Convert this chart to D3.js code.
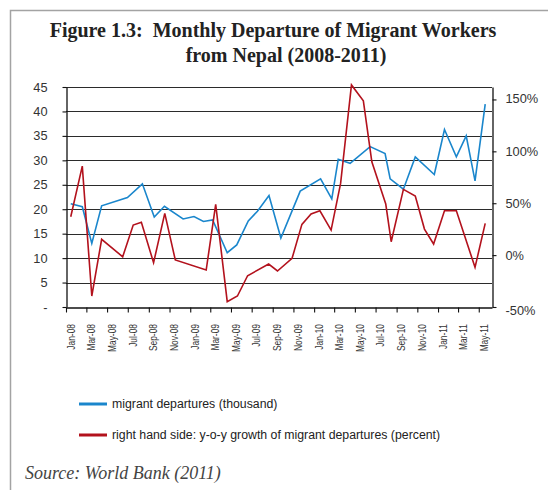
<!DOCTYPE html>
<html>
<head>
<meta charset="utf-8">
<script src="https://cdn.jsdelivr.net/npm/d3@7"></script>
<style>
body { margin: 0; background: #fff; }
svg { display: block; }
</style>
</head>
<body>
<div id="chart"></div>
<script>
// Datasets (dates, values in thousand / percent)
var monthLabels = ["Jan-08","Mar-08","May-08","Jul-08","Sep-08","Nov-08","Jan-09","Mar-09","May-09","Jul-09",
    "Sep-09","Nov-09","Jan-10","Mar-10","May-10","Jul-10","Sep-10","Nov-10","Jan-11","Mar-11","May-11"];
var leftTicks = [0, 5, 10, 15, 20, 25, 30, 35, 40, 45];
var rightTicks = [-50, 0, 50, 100, 150];

var departureDates = ["2008-01-15","2008-02-18","2008-03-17","2008-04-15","2008-06-30","2008-08-13","2008-09-17",
    "2008-10-17","2008-12-11","2009-01-12","2009-02-09","2009-03-08","2009-04-20","2009-05-18","2009-06-21",
    "2009-07-18","2009-08-21","2009-09-25","2009-11-21","2010-01-20","2010-02-22","2010-03-13","2010-04-17",
    "2010-06-15","2010-07-29","2010-08-13","2010-09-21","2010-10-26","2010-12-21","2011-01-20","2011-02-24",
    "2011-03-25","2011-04-20","2011-05-20"];
var departureValues = [21.1,20.5,13.0,20.7,22.4,25.2,18.4,20.6,18.0,18.5,17.5,17.8,11.1,12.7,17.6,19.6,22.8,
    14.1,23.7,26.2,22.1,30.2,29.4,32.8,31.4,26.2,24.1,30.7,27.1,36.3,30.7,35.0,25.8,41.5];

var growthDates = ["2008-01-15","2008-02-18","2008-03-17","2008-04-15","2008-06-16","2008-07-17","2008-08-10",
    "2008-09-15","2008-10-18","2008-11-18","2009-02-17","2009-03-17","2009-04-20","2009-05-20","2009-06-19",
    "2009-08-20","2009-09-15","2009-10-28","2009-11-26","2009-12-23","2010-01-18","2010-02-20","2010-03-20",
    "2010-04-21","2010-05-26","2010-06-20","2010-07-31","2010-08-16","2010-09-21","2010-10-26","2010-11-22",
    "2010-12-19","2011-01-20","2011-02-24","2011-04-20","2011-05-20"];
var growthValues = [37.0,85.8,-39.4,15.2,-1.6,29.0,31.6,-7.3,40.2,-4.7,-14.4,48.9,-44.9,-39.4,-19.9,-8.6,
    -15.3,-3.1,29.6,39.6,42.7,24.1,69.1,164,148.7,89.9,49.2,12.9,63.3,56.9,25.1,10.7,42.7,42.7,-11.8,30.6];

var blue = "#1a86cc",
    red = "#b3121d";

var width = 548,
    height = 490;
var plot = {left: 66, right: 492, top: 87, bottom: 307};

var parseDate = d3.timeParse("%Y-%m-%d");
var parseMonth = d3.timeParse("%b-%y");

var svg = d3.select("#chart").append("svg")
    .attr("width", width)
    .attr("height", height)
    .style("font-family", "'Liberation Sans', Arial, sans-serif");

// frame of the figure box
svg.append("path")
    .attr("d", "M10.5,490V10.5H548")
    .attr("fill", "none")
    .attr("stroke", "#a3a3a3")
    .attr("stroke-width", 1.5);

// title
var title = svg.append("g")
    .style("font-family", "'Liberation Serif', 'Times New Roman', serif")
    .style("font-weight", "bold")
    .style("font-size", "20px")
    .attr("fill", "#222")
    .attr("text-anchor", "middle");
title.append("text").attr("x", 273).attr("y", 37).text("Figure 1.3:\u00a0 Monthly Departure of Migrant Workers");
title.append("text").attr("x", 286).attr("y", 62).text("from Nepal (2008-2011)");

// scales
var x = d3.scaleTime()
    .domain([new Date(2008, 0, 1), new Date(2011, 5, 9)])
    .range([plot.left, plot.right]);
var yLeft = d3.scaleLinear().domain([0, 45]).range([plot.bottom, plot.top]);
var yRight = d3.scaleLinear().domain([-50, 162]).range([plot.bottom, plot.top]);

// gridlines
svg.append("g")
    .selectAll("line")
    .data(leftTicks.slice(1))
    .enter()
    .append("line")
    .attr("x1", plot.left)
    .attr("x2", plot.right)
    .attr("y1", function (d) { return Math.round(yLeft(d)) + 0.5; })
    .attr("y2", function (d) { return Math.round(yLeft(d)) + 0.5; })
    .attr("stroke", "#2b2b2b")
    .attr("stroke-width", 1.1);

// left axis
var leftAxis = svg.append("g")
    .attr("transform", "translate(" + (plot.left + 0.5) + ",0)")
    .call(d3.axisLeft(yLeft)
        .tickValues(leftTicks)
        .tickSize(4)
        .tickSizeOuter(0)
        .tickPadding(15)
        .tickFormat(function (d) { return d === 0 ? "-" : d; }));

// right axis
var rightAxis = svg.append("g")
    .attr("transform", "translate(" + (plot.right + 0.5) + ",0)")
    .call(d3.axisRight(yRight)
        .tickValues(rightTicks)
        .tickSize(4)
        .tickSizeOuter(0)
        .tickPadding(9)
        .tickFormat(function (d) { return d + "%"; }));

// bottom axis, ticks every two months
var tickDates = monthLabels.map(function (m) { return parseMonth(m); });
var bottomAxis = svg.append("g")
    .attr("transform", "translate(0," + (plot.bottom + 0.5) + ")")
    .call(d3.axisBottom(x)
        .tickValues(tickDates)
        .tickSize(5)
        .tickSizeOuter(0)
        .tickFormat(""));

[leftAxis, rightAxis, bottomAxis].forEach(function (a) {
    a.selectAll("path, line").attr("stroke", "#111").attr("stroke-width", 1.1);
    a.selectAll("text").attr("fill", "#333").style("font-size", "12.8px");
    a.select(".domain").attr("stroke-width", 1.3);
});
rightAxis.select(".tick:last-of-type text").attr("dy", "0.2em");
rightAxis.selectAll(".tick text").filter(function (d) { return d === -50; }).attr("dy", "0.6em");

// month labels, centred on the month
svg.append("g")
    .selectAll("text")
    .data(tickDates)
    .enter()
    .append("text")
    .attr("transform", function (d) {
        var mid = new Date((d.getTime() + d3.timeMonth.offset(d, 1).getTime()) / 2);
        return "translate(" + (x(mid) + 3.5) + ",324) rotate(-90) scale(0.8,1)";
    })
    .attr("text-anchor", "end")
    .attr("fill", "#333")
    .style("font-size", "10.5px")
    .text(function (d, i) { return monthLabels[i]; });

// lines
var departures = departureDates.map(function (d, i) { return {date: parseDate(d), value: departureValues[i]}; });
var growth = growthDates.map(function (d, i) { return {date: parseDate(d), value: growthValues[i]}; });

var blueLine = d3.line()
    .x(function (d) { return x(d.date); })
    .y(function (d) { return yLeft(d.value); });
var redLine = d3.line()
    .x(function (d) { return x(d.date); })
    .y(function (d) { return yRight(d.value); });

svg.append("path")
    .datum(departures)
    .attr("fill", "none")
    .attr("stroke", blue)
    .attr("stroke-width", 1.6)
    .attr("d", blueLine);

svg.append("path")
    .datum(growth)
    .attr("fill", "none")
    .attr("stroke", red)
    .attr("stroke-width", 1.6)
    .attr("d", redLine);

// legend
var legendItems = [
    {label: "migrant departures (thousand)", color: blue, y: 404},
    {label: "right hand side: y-o-y growth of migrant departures (percent)", color: red, y: 435}
];
var legend = svg.append("g")
    .selectAll("g")
    .data(legendItems)
    .enter()
    .append("g")
    .attr("transform", function (d) { return "translate(79," + d.y + ")"; });
legend.append("line")
    .attr("x1", 0)
    .attr("x2", 28)
    .attr("stroke", function (d) { return d.color; })
    .attr("stroke-width", 3);
legend.append("text")
    .attr("x", 33)
    .attr("dy", "0.35em")
    .attr("fill", "#222")
    .style("font-size", "12.3px")
    .text(function (d) { return d.label; });

// source
svg.append("text")
    .attr("x", 25)
    .attr("y", 479)
    .attr("fill", "#444")
    .style("font-family", "'Liberation Serif', 'Times New Roman', serif")
    .style("font-style", "italic")
    .style("font-size", "18px")
    .text("Source: World Bank (2011)");
</script>
</body>
</html>
